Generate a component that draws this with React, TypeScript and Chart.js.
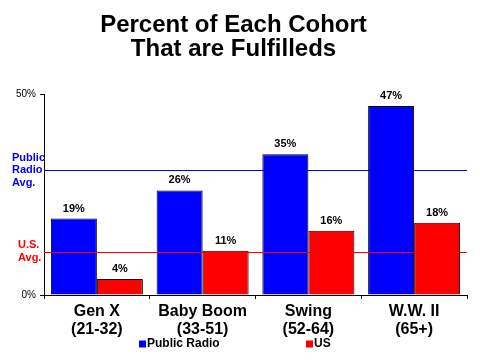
import React, { useEffect, useRef } from "react";
import { Chart, registerables } from "chart.js";

Chart.register(...registerables);

const titleLines = ["Percent of Each Cohort", "That are Fulfilleds"];
const categories = [
  ["Gen X", "(21-32)"],
  ["Baby Boom", "(33-51)"],
  ["Swing", "(52-64)"],
  ["W.W. II", "(65+)"],
];
const seriesNames = ["Public Radio", "US"];
const publicRadio = [19, 26, 35, 47];
const usValues = [4, 11, 16, 18];
const seriesColors = ["#0000FF", "#FF0000"];
const yTicks = [0, 50];
const avgValues = [31, 10.8];
const avgLabels = [["Public", "Radio", "Avg."], ["U.S.", "Avg."]];
const avgColors = ["#0000FF", "#FF0000"];

const FONT = '"Liberation Sans", Arial, Helvetica, sans-serif';

const overlayPlugin = {
  id: "overlay",
  afterDatasetsDraw(chart: any) {
    const ctx = chart.ctx;
    const area = chart.chartArea;
    const ys = chart.scales.y;
    ctx.save();
    // average lines
    avgValues.forEach((v, i) => {
      const y = Math.round(ys.getPixelForValue(v)) + 0.5;
      ctx.strokeStyle = avgColors[i];
      ctx.lineWidth = 1;
      ctx.beginPath();
      ctx.moveTo(area.left, y);
      ctx.lineTo(area.right, y);
      ctx.stroke();
    });
    // value labels
    ctx.fillStyle = "#000";
    ctx.font = `bold 11px ${FONT}`;
    ctx.textAlign = "center";
    ctx.textBaseline = "alphabetic";
    chart.data.datasets.forEach((ds: any, di: number) => {
      const meta = chart.getDatasetMeta(di);
      meta.data.forEach((bar: any, j: number) => {
        ctx.fillText(ds.data[j] + "%", bar.x, bar.y - 7);
      });
    });
    // average labels
    ctx.font = `bold 11px ${FONT}`;
    ctx.textAlign = "left";
    ctx.textBaseline = "middle";
    avgValues.forEach((v, i) => {
      const y = ys.getPixelForValue(v);
      const lines = avgLabels[i];
      const x = i === 0 ? area.left - 32 : area.left - 26;
      const step = 12.5;
      ctx.fillStyle = avgColors[i];
      lines.forEach((t, k) => {
        ctx.fillText(t, x, y + (k - (lines.length - 1) / 2) * step);
      });
    });
    ctx.restore();
  },
  afterDraw(chart: any) {
    const ctx = chart.ctx;
    const area = chart.chartArea;
    ctx.save();
    ctx.font = `bold 12px ${FONT}`;
    ctx.textAlign = "left";
    ctx.textBaseline = "middle";
    const yc = 344;
    chart.data.datasets.forEach((ds: any, i: number) => {
      const x = area.left + 95 + i * 167;
      ctx.fillStyle = ds.backgroundColor;
      ctx.fillRect(x, yc - 3.5, 7, 7);
      ctx.fillStyle = "#000";
      ctx.fillText(ds.label, x + 8, yc);
    });
    ctx.restore();
  },
};

export default function App() {
  const ref = useRef<HTMLCanvasElement | null>(null);
  useEffect(() => {
    if (!ref.current) return;
    const chart = new Chart(ref.current, {
      type: "bar",
      data: {
        labels: categories,
        datasets: [
          {
            label: seriesNames[0],
            data: publicRadio,
            backgroundColor: seriesColors[0],
            borderColor: "#000",
            borderWidth: 1,
          },
          {
            label: seriesNames[1],
            data: usValues,
            backgroundColor: seriesColors[1],
            borderColor: "#000",
            borderWidth: 1,
          },
        ],
      },
      options: {
        responsive: false,
        animation: false,
        devicePixelRatio: 1,
        layout: { padding: { left: 0, right: 13, top: 0, bottom: 0 } },
        datasets: {
          bar: { categoryPercentage: 0.87, barPercentage: 1 },
        },
        plugins: {
          legend: { display: false },
          tooltip: { enabled: false },
          title: {
            display: true,
            text: titleLines,
            color: "#000",
            font: { family: FONT, size: 24, weight: "bold", lineHeight: 1.0 },
            padding: { top: 13, bottom: 33 },
          },
        },
        scales: {
          x: {
            grid: {
              display: true,
              drawOnChartArea: false,
              drawTicks: true,
              tickLength: 4,
              color: "#000",
              offset: true,
            },
            border: { display: true, color: "#000", width: 1 },
            ticks: {
              color: "#000",
              font: { family: FONT, size: 16, weight: "bold", lineHeight: 1.1 },
              padding: 4,
              maxRotation: 0,
              autoSkip: false,
            },
            afterFit(scale: any) {
              scale.height = 65;
            },
          },
          y: {
            min: 0,
            max: 50,
            afterBuildTicks(scale: any) {
              scale.ticks = yTicks.map((v) => ({ value: v }));
            },
            grid: {
              display: true,
              drawOnChartArea: false,
              drawTicks: true,
              tickLength: 4,
              color: "#000",
            },
            border: { display: true, color: "#000", width: 1 },
            ticks: {
              color: "#000",
              font: { family: FONT, size: 10 },
              padding: 4,
              callback: (v: any) => v + "%",
            },
            afterFit(scale: any) {
              scale.width = 44;
            },
          },
        },
      },
      plugins: [overlayPlugin],
    });
    return () => chart.destroy();
  }, []);
  return (
    <div style={{ position: "absolute", left: 0, top: 0, width: 480, height: 360, background: "#fff" }}>
      <canvas ref={ref} width={480} height={360} />
    </div>
  );
}
